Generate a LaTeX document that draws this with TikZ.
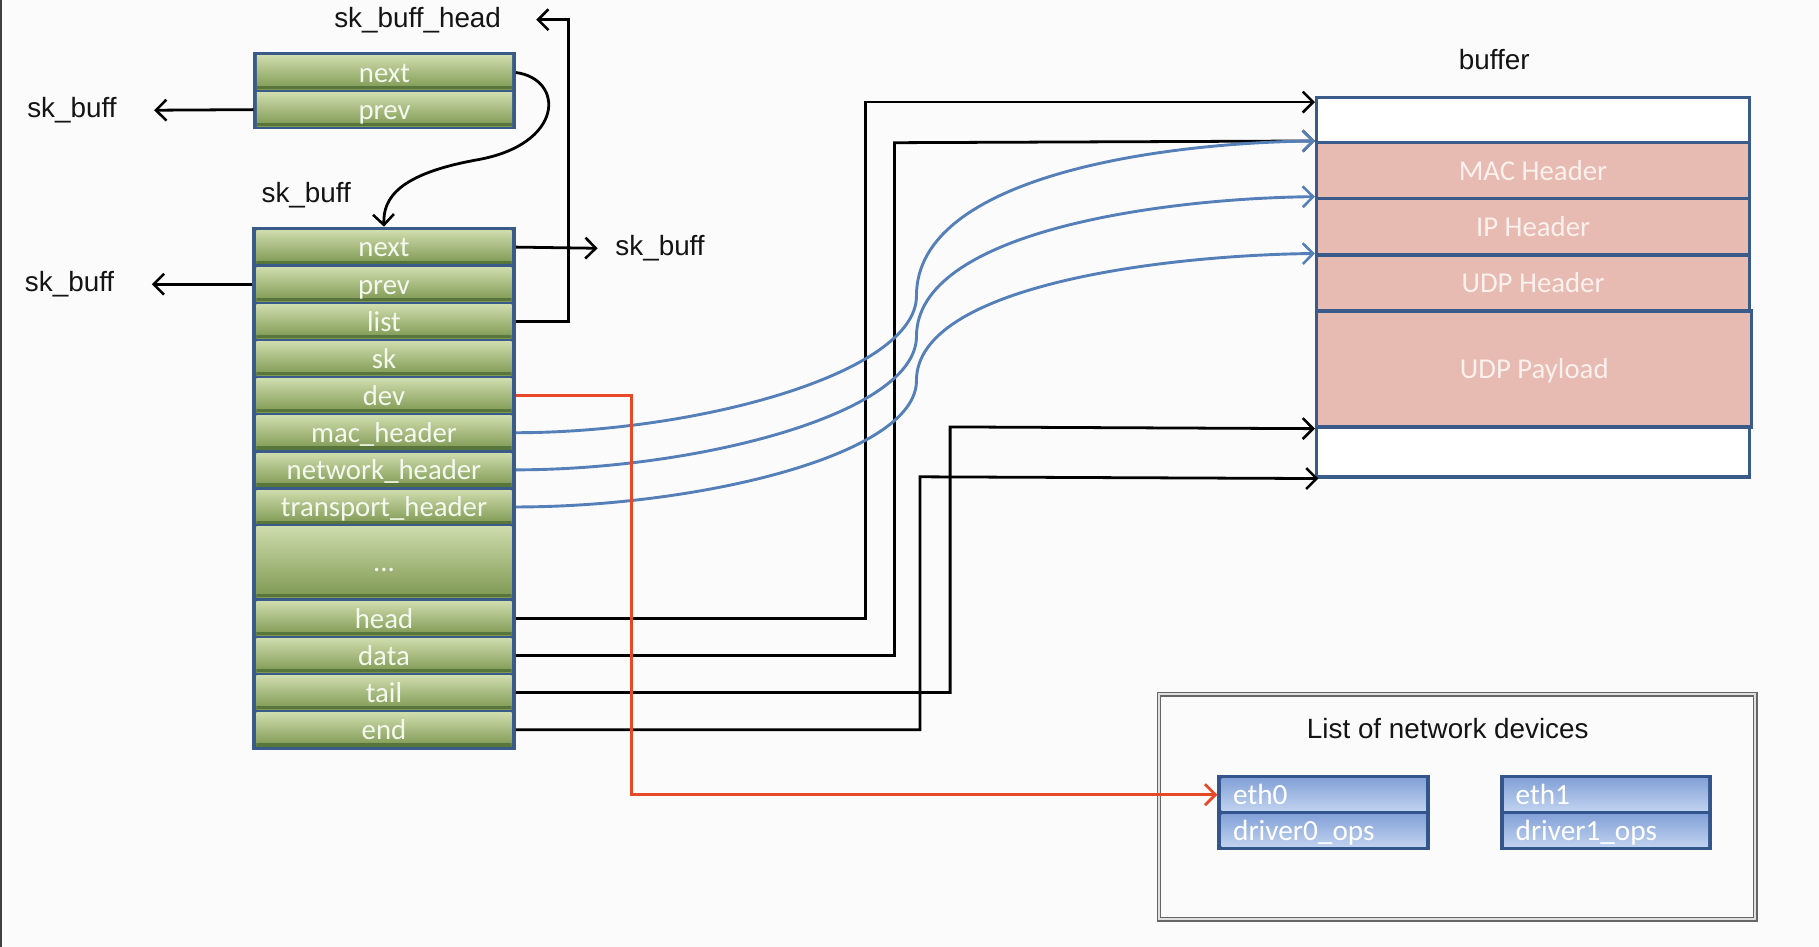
\documentclass[tikz,border=0pt]{standalone}
\usepackage{fontspec}
\setmainfont{Liberation Sans}
\newfontfamily\calfont{Carlito}
\usetikzlibrary{arrows.meta}
\definecolor{bgc}{RGB}{251,251,251}
\definecolor{boxblue}{RGB}{58,90,138}
\definecolor{greentop}{RGB}{206,220,172}
\definecolor{greenbot}{RGB}{126,152,82}
\definecolor{greenedge}{RGB}{88,118,60}
\definecolor{greentext}{RGB}{244,248,238}
\definecolor{pinkc}{RGB}{231,187,177}
\definecolor{pinktext}{RGB}{250,240,238}
\definecolor{curveblue}{RGB}{84,127,185}
\definecolor{redc}{RGB}{230,72,40}
\definecolor{devtop}{RGB}{132,162,216}
\definecolor{devbot}{RGB}{192,210,239}
\definecolor{devborder}{RGB}{50,85,140}
\begin{document}
\begin{tikzpicture}[x=0.5pt,y=-0.5pt,
  lbl/.style={font=\fontsize{12}{14}\selectfont, text=black!92, inner sep=0pt},
  outerbox/.style={fill=boxblue, draw=boxblue, line width=0.6pt, inner sep=0pt},
  greenrow/.style={minimum width=110pt, minimum height=14.5pt, inner sep=0pt,
     text height=9.6pt, text depth=1.1pt,
     top color=greentop, bottom color=greenbot, text=greentext,
     font=\calfont\fontsize{12.4}{14}\selectfont,
     path picture={\fill[greenedge] ([yshift=1.4pt]path picture bounding box.south west) rectangle (path picture bounding box.south east);}},
  prow/.style={fill=pinkc, draw=boxblue, line width=1.5pt, inner sep=0pt,
     text height=9.6pt, text depth=1.1pt,
     minimum width=186.5pt, text=pinktext, font=\calfont\fontsize{12.4}{14}\selectfont},
  drow/.style={minimum width=88pt, minimum height=14pt, inner ysep=0pt, inner xsep=5pt,
     text height=9.6pt, text depth=1.1pt,
     text width=78pt, align=left, top color=devtop, bottom color=devbot, text=white,
     font=\calfont\fontsize{12.6}{14}\selectfont},
  arr/.style={draw=black, line width=1.2pt, -{Straight Barb[length=4.5pt,width=9pt,line width=1.1pt]}},
  bluearr/.style={draw=curveblue, line width=1.25pt, -{Straight Barb[length=4.5pt,width=9pt,line width=1.1pt]}},
  redarr/.style={draw=redc, line width=1.3pt, -{Straight Barb[length=4.5pt,width=9pt,line width=1.2pt]}}
]
\useasboundingbox[fill=bgc] (0,0) rectangle (1568,816);
\draw[line width=1pt, black!75] (1,0) -- (1,816);

% labels
\node[lbl] (skHead) at (360,17) {sk\_buff\_head};
\node[lbl] (skL1) at (62,95) {sk\_buff};
\node[lbl] (skTop) at (264,168) {sk\_buff};
\node[lbl] (skR) at (569,214) {sk\_buff};
\node[lbl] (skL2) at (60,245) {sk\_buff};
\node[lbl] (bufT) at (1288,51) {buffer};

% sk_buff_head box
\node[outerbox, minimum width=112.5pt, minimum height=33pt] (Abox) at (331.5,78) {};
\node[greenrow] (A0) at (331.5,62.5) {next};
\node[greenrow] (A1) at (331.5,94.5) {prev};

% sk_buff box
\node[outerbox, minimum width=113pt, minimum height=225pt] (Bbox) at (331,421) {};
\node[greenrow] (B0) at (331,213) {next};
\node[greenrow] (B1) at (331,245) {prev};
\node[greenrow] (B2) at (331,277) {list};
\node[greenrow] (B3) at (331,309) {sk};
\node[greenrow] (B4) at (331,341) {dev};
\node[greenrow] (B5) at (331,373) {mac\_header};
\node[greenrow] (B6) at (331,405) {network\_header};
\node[greenrow] (B7) at (331,437) {transport\_header};
\node[greenrow, minimum height=30.5pt] (B8) at (331,484.5) {...};
\node[greenrow] (B9) at (331,533) {head};
\node[greenrow] (B10) at (331,565) {data};
\node[greenrow] (B11) at (331,597) {tail};
\node[greenrow] (B12) at (331,629) {end};

% buffer
\node[draw=boxblue, line width=1.5pt, fill=white, minimum width=186.5pt, minimum height=163.5pt, inner sep=0pt] (buf) at (1321.5,247.5) {};
\node[prow, minimum height=24pt] (mac) at (1321.5,147) {MAC Header};
\node[prow, minimum height=24.5pt] (ip) at (1321.5,195.5) {IP Header};
\node[prow, minimum height=24pt] (udph) at (1321.5,244) {UDP Header};
\node[prow, minimum height=50pt, minimum width=187.5pt] (payload) at (1322.5,318) {UDP Payload};

% network devices
\node[draw=black!60, line width=0.6pt, double=black!12, double distance=0.8pt, minimum width=257pt, minimum height=97pt, inner sep=0pt] (devlist) at (1256,695.5) {};
\node[lbl] (devT) at (1248,628) {List of network devices};
\node[outerbox, fill=devborder, draw=devborder, minimum width=91pt, minimum height=31.5pt] (g0) at (1141,700.5) {};
\node[drow] (eth0) at (1141,685) {eth0};
\node[drow] (drv0) at (1141,716) {driver0\_ops};
\node[outerbox, fill=devborder, draw=devborder, minimum width=91pt, minimum height=31.5pt] (g1) at (1384.5,700.5) {};
\node[drow] (eth1) at (1384.5,685) {eth1};
\node[drow] (drv1) at (1384.5,716) {driver1\_ops};

% list links
\draw[arr] (Abox.west |- A1) -- ([xshift=16pt]skL1.east);
\draw[arr] (Bbox.west |- B1) -- ([xshift=16pt]skL2.east);
\draw[arr] (Bbox.east |- B0) -- ([xshift=-7.5pt]skR.west);
\draw[arr] (Bbox.east |- B2) -| (490,17) -- ([xshift=15pt]skHead.east);
\draw[arr] (Abox.east |- A0) .. controls (487,68) and (487,125) .. (410,138)
   .. controls (345,150) and (330,170) .. (Bbox.north);

% pointers into buffer
\draw[arr] (Bbox.east |- B9) -| (746,88) -- (buf.west |- 0,88);
\draw[arr] (Bbox.east |- B10) -| (771,123) -- (mac.north west);
\draw[arr] (Bbox.east |- B11) -| (819,368) -- (payload.south west);
\draw[arr] (Bbox.east |- B12) -| (793,411) -- ([xshift=1.5pt]buf.south west);

\draw[bluearr] (Bbox.east |- B5) .. controls (600,373) and (790,322) .. (790,255)
   .. controls (790,152) and (1000,123) .. (mac.north west);
\draw[bluearr] (Bbox.east |- B6) .. controls (600,405) and (790,357) .. (790,290)
   .. controls (790,200) and (1000,171) .. (ip.north west);
\draw[bluearr] (Bbox.east |- B7) .. controls (600,437) and (790,393) .. (790,328)
   .. controls (790,247) and (1000,220) .. (udph.north west);

% dev pointer
\draw[redarr] (Bbox.east |- B4) -| (544,685) -- (g0.west |- eth0);
\end{tikzpicture}
\end{document}
